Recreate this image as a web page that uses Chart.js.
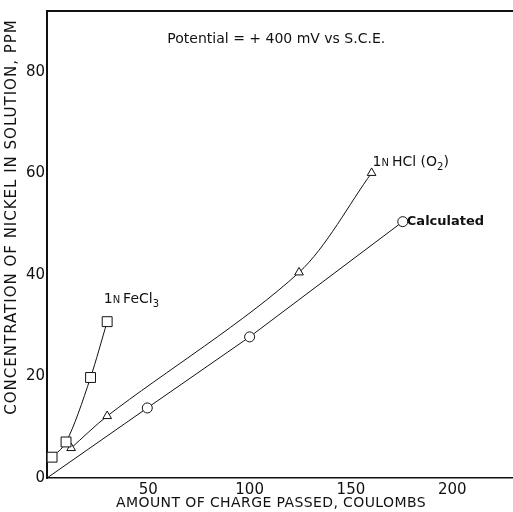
<!DOCTYPE html>
<html lang="en">
<head>
<meta charset="UTF-8">
<title>Nickel in solution vs charge passed</title>
<script src="https://cdn.jsdelivr.net/npm/chart.js"></script>
<style>
  body { margin: 0; background: #fff; }
</style>
</head>
<body>
<canvas id="nickelChart" width="513" height="512"></canvas>
<script>
// values
const fecl3X = [2.5, 9.4, 21.5, 29.7];
const fecl3Y = [4.1, 7.1, 19.8, 30.8];
const hclX = [11.9, 29.7, 124.4, 160.2];
const hclY = [5.9, 12.2, 40.5, 60.1];
const calcX = [0, 49.5, 100, 175.6];
const calcY = [0, 13.8, 27.8, 50.5];
const xTickValues = [50, 100, 150, 200];
const yTickValues = [0, 20, 40, 60, 80];

const xTitle = 'AMOUNT OF CHARGE PASSED, COULOMBS';
const yTitle = 'CONCENTRATION OF NICKEL IN SOLUTION, PPM';
const noteText = 'Potential = + 400 mV vs S.C.E.';

const FONT = '"DejaVu Sans"';
const INK = '#111';

function toPoints(xs, ys) {
    return xs.map((x, i) => ({ x: x, y: ys[i] }));
}

// writes a run of text pieces (small caps, subscripts) one after the other
function drawParts(ctx, x, y, parts) {
    parts.forEach(p => {
        ctx.font = (p.bold ? 'bold ' : '') + p.size + 'px ' + FONT;
        ctx.fillText(p.text, x, y + (p.dy || 0));
        x += ctx.measureText(p.text).width + (p.gap || 0);
    });
}

const annotations = {
    id: 'annotations',
    afterDraw(chart) {
        const ctx = chart.ctx;
        const a = chart.chartArea;
        const sx = chart.scales.x, sy = chart.scales.y;
        ctx.save();
        ctx.fillStyle = INK;
        ctx.strokeStyle = INK;

        // top frame line
        ctx.lineWidth = 2;
        ctx.beginPath();
        ctx.moveTo(a.left, a.top);
        ctx.lineTo(a.right, a.top);
        ctx.stroke();

        ctx.textBaseline = 'middle';
        ctx.textAlign = 'left';

        drawParts(ctx, sx.getPixelForValue(59.4), sy.getPixelForValue(86.5), [
            { text: noteText, size: 14 }
        ]);
        drawParts(ctx, sx.getPixelForValue(28.0), sy.getPixelForValue(35.1), [
            { text: '1', size: 14 },
            { text: 'N', size: 10, dy: 1, gap: 3 },
            { text: 'FeCl', size: 14 },
            { text: '3', size: 10, dy: 5 }
        ]);
        drawParts(ctx, sx.getPixelForValue(160.7), sy.getPixelForValue(62.1), [
            { text: '1', size: 14 },
            { text: 'N', size: 10, dy: 1, gap: 3 },
            { text: 'HCl (O', size: 14 },
            { text: '2', size: 10, dy: 5 },
            { text: ')', size: 14 }
        ]);
        drawParts(ctx, sx.getPixelForValue(177.6), sy.getPixelForValue(50.5), [
            { text: 'Calculated', size: 13, bold: true }
        ]);

        // axis titles
        ctx.textAlign = 'center';
        ctx.font = '14px ' + FONT;
        ctx.letterSpacing = '0.4px';
        ctx.fillText(xTitle, 271, 503);
        ctx.font = '15px ' + FONT;
        ctx.letterSpacing = '1px';
        ctx.translate(12, 217);
        ctx.rotate(-Math.PI / 2);
        ctx.fillText(yTitle, 0, 0);
        ctx.restore();
    }
};

const markerStyle = {
    borderColor: INK,
    backgroundColor: '#fff',
    borderWidth: 1,
    pointBorderColor: INK,
    pointBackgroundColor: '#fff',
    pointBorderWidth: 1,
    showLine: true
};

const ctx = document.getElementById('nickelChart').getContext('2d');
new Chart(ctx, {
    type: 'scatter',
    data: {
        datasets: [
            Object.assign({
                label: '1N FeCl3',
                data: toPoints(fecl3X, fecl3Y),
                pointStyle: 'rect',
                pointRadius: 7,
                cubicInterpolationMode: 'monotone'
            }, markerStyle),
            Object.assign({
                label: '1N HCl (O2)',
                data: toPoints(hclX, hclY),
                pointStyle: 'triangle',
                pointRadius: 5,
                tension: 0.3
            }, markerStyle),
            Object.assign({
                label: 'Calculated',
                data: toPoints(calcX, calcY),
                pointStyle: 'circle',
                pointRadius: [0, 5, 5, 5],
                tension: 0
            }, markerStyle)
        ]
    },
    options: {
        responsive: false,
        animation: false,
        // the plot runs right up to the page edge in the original
        layout: { autoPadding: false, padding: { top: 10, right: 0, left: 0, bottom: 0 } },
        plugins: {
            legend: { display: false },
            tooltip: { enabled: false }
        },
        scales: {
            x: {
                min: 0,
                max: 230,
                afterBuildTicks: s => { s.ticks = xTickValues.map(v => ({ value: v })); },
                afterFit: s => { s.height = 34; },
                grid: { display: false, drawTicks: false },
                border: { display: true, color: INK, width: 1.5 },
                ticks: {
                    color: INK,
                    padding: 3,
                    font: { family: 'DejaVu Sans', size: 15 }
                }
            },
            y: {
                min: 0,
                max: 92,
                afterBuildTicks: s => { s.ticks = yTickValues.map(v => ({ value: v })); },
                afterFit: s => { s.width = 47; },
                grid: { display: false, drawTicks: false },
                border: { display: true, color: INK, width: 2 },
                ticks: {
                    color: INK,
                    padding: 2,
                    font: { family: 'DejaVu Sans', size: 15 }
                }
            }
        }
    },
    plugins: [annotations]
});
</script>
</body>
</html>
